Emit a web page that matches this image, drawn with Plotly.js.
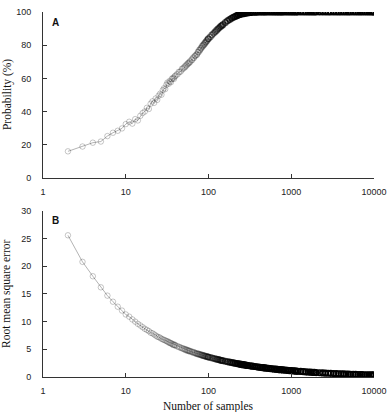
<!DOCTYPE html>
<html>
<head>
<meta charset="utf-8">
<script src="https://cdn.plot.ly/plotly-3.0.1.min.js"></script>
<style>
  html, body { margin: 0; padding: 0; background: #fff; }
  #chart { width: 387px; height: 412px; }
</style>
</head>
<body>
<div id="chart"></div>
<script>
// Number of samples (x)
const samples = [
  2,3,4,5,6,7,8,9,10,11,12,13,14,15,16,17,18,19,20,21,22,23,24,25,26,27,28,29,30,31,32,33,34,35,36,37,38,39,40,
  42,44,46,48,50,52,54,56,58,60,
  63,66,69,72,75,78,81,84,87,90,93,96,99,
  100,105,110,115,120,125,130,135,140,145,150,
  160,170,180,190,200,210,220,230,240,250,260,270,280,290,300,
  320,340,360,380,400,420,440,460,480,500,
  530,560,590,620,650,680,710,740,770,800,
  850,900,950,1000,1050,1100,1150,1200,
  1300,1400,1500,1600,1700,1800,1900,2000,
  2200,2400,2600,2800,3000,
  3250,3500,3750,4000,
  4300,4600,4900,5200,
  5600,6000,6400,6800,7200,
  7700,8200,8700,9200,9700,10000
];

// Panel A: Probability (%)
const probability = [
  16.1,19.0,21.3,22.0,25.3,27.3,28.5,29.9,32.5,33.9,32.8,35.5,34.7,37.5,39.2,40.1,42.3,41.6,44.8,46.2,45.3,47.9,47.1,49.6,50.8,50.2,52.9,54.1,53.6,56.2,57.4,56.8,58.3,57.9,59.6,60.2,59.8,61.1,61.7,
  62.5,63.8,64.2,65.6,66.3,67.1,67.9,68.8,69.4,70.2,
  71.3,72.5,73.6,74.4,75.8,77.0,78.1,79.3,80.2,81.1,82.0,82.9,83.8,
  84.0,85.0,86.1,87.1,88.0,88.9,89.7,90.5,91.2,91.9,92.5,
  93.7,94.7,95.5,96.2,96.8,97.3,97.8,98.2,98.5,98.8,99.0,99.2,99.4,99.5,99.6,
  99.75,99.85,99.92,99.96,100,100,100,100,100,100,
  100,100,100,100,100,100,100,100,100,100,
  100,100,100,100,100,100,100,100,
  100,100,100,100,100,100,100,100,
  100,100,100,100,100,
  100,100,100,100,
  100,100,100,100,
  100,100,100,100,100,
  100,100,100,100,100,100
];

// Panel B: Root mean square error
const rmse = [
  25.6,20.8,18.2,16.2,14.7,13.6,12.7,12.0,11.3,10.9,10.4,10.0,9.6,9.3,9.0,8.7,8.5,8.3,8.0,7.9,7.7,7.5,7.3,7.2,7.1,6.9,6.8,6.7,6.6,6.5,6.4,6.3,6.2,6.1,6.0,5.9,5.8,5.8,5.7,
  5.55,5.43,5.31,5.2,5.09,4.99,4.9,4.81,4.73,4.65,
  4.54,4.43,4.33,4.24,4.16,4.08,4.0,3.93,3.86,3.79,3.73,3.67,3.62,
  3.6,3.51,3.43,3.36,3.29,3.22,3.16,3.1,3.04,2.99,2.94,
  2.85,2.76,2.68,2.61,2.55,2.48,2.43,2.37,2.32,2.28,2.23,2.19,2.15,2.11,2.08,
  2.01,1.95,1.9,1.85,1.8,1.76,1.72,1.68,1.64,1.61,
  1.56,1.52,1.48,1.45,1.41,1.38,1.35,1.32,1.3,1.27,
  1.23,1.2,1.17,1.14,1.11,1.09,1.06,1.04,
  1.0,0.96,0.93,0.9,0.87,0.85,0.83,0.8,
  0.77,0.73,0.71,0.68,0.66,
  0.63,0.61,0.59,0.57,
  0.55,0.53,0.51,0.5,
  0.48,0.46,0.45,0.44,0.42,
  0.41,0.4,0.39,0.38,0.37,0.36
];

// Tick labels
const xTickVals = [1, 10, 100, 1000, 10000];
const xTickText = ['1', '10', '100', '1000', '10000'];
const yTickValsA = [0, 20, 40, 60, 80, 100];
const yTickValsB = [0, 5, 10, 15, 20, 25, 30];

// Styling: markers get darker/heavier where samples pile up
function pileUp(n) {
  return Math.min(1, Math.max(0, (Math.log10(n) - 1.5) / 0.9));
}
const cols = samples.map(n => {
  const t = pileUp(n);
  return 'rgba(0,0,0,' + (0.22 + 0.78 * t * t).toFixed(3) + ')';
});
const widths = samples.map(n => 1 + 0.7 * pileUp(n));

const common = {
  type: 'scatter',
  mode: 'lines+markers',
  x: samples,
  line: { color: 'rgba(120,120,120,0.8)', width: 0.7 },
  marker: { symbol: 'circle-open', size: 5.5, color: cols, line: { width: widths } },
  showlegend: false,
  hoverinfo: 'x+y'
};

const traceA = Object.assign({}, common, { y: probability, xaxis: 'x', yaxis: 'y' });
const traceB = Object.assign({}, common, { y: rmse, xaxis: 'x2', yaxis: 'y2' });

const tickFont = { family: 'Liberation Sans, Arial, sans-serif', size: 9, color: '#222' };
const titleFont = { family: 'Liberation Serif, Times New Roman, serif', size: 11.5, color: '#111' };

const xBase = {
  type: 'log',
  range: [-0.0005, 4.0005],
  tickmode: 'array',
  tickvals: xTickVals,
  ticktext: xTickText,
  ticks: 'inside',
  ticklen: 4,
  tickwidth: 1,
  tickcolor: '#333',
  showline: true,
  linecolor: '#333',
  linewidth: 1,
  showgrid: false,
  zeroline: false,
  tickfont: tickFont,
  ticklabelstandoff: 5,
  ticklabeloverflow: 'allow'
};
const yBase = {
  ticks: 'inside',
  ticklen: 4,
  tickwidth: 1,
  tickcolor: '#333',
  showline: true,
  linecolor: '#333',
  linewidth: 1,
  showgrid: false,
  zeroline: false,
  tickfont: tickFont,
  tickmode: 'array',
  ticklabelstandoff: 9
};

const layout = {
  width: 387,
  height: 412,
  margin: { l: 43, r: 13, t: 12, b: 35 },
  paper_bgcolor: '#fff',
  plot_bgcolor: '#fff',
  xaxis: Object.assign({}, xBase, { domain: [0, 1], anchor: 'y' }),
  yaxis: Object.assign({}, yBase, { domain: [0.545, 1], range: [0, 100], tickvals: yTickValsA, anchor: 'x' }),
  xaxis2: Object.assign({}, xBase, { domain: [0, 1], anchor: 'y2' }),
  yaxis2: Object.assign({}, yBase, { domain: [0, 0.455], range: [0, 30], tickvals: yTickValsB, anchor: 'x2' }),
  annotations: [
    { text: '<b>A</b>', xref: 'paper', yref: 'paper', x: 0, y: 1, xanchor: 'left', yanchor: 'top',
      xshift: 7, yshift: -3, showarrow: false, font: { family: 'Liberation Sans, Arial, sans-serif', size: 10, color: '#111' } },
    { text: '<b>B</b>', xref: 'paper', yref: 'paper', x: 0, y: 0.455, xanchor: 'left', yanchor: 'top',
      xshift: 7, yshift: -2, showarrow: false, font: { family: 'Liberation Sans, Arial, sans-serif', size: 10, color: '#111' } },
    { text: 'Probability (%)', xref: 'paper', yref: 'paper', x: 0, y: 0.7725, xanchor: 'center', yanchor: 'middle',
      xshift: -36, textangle: -90, showarrow: false, font: titleFont },
    { text: 'Root mean square error', xref: 'paper', yref: 'paper', x: 0, y: 0.2275, xanchor: 'center', yanchor: 'middle',
      xshift: -36, textangle: -90, showarrow: false, font: titleFont },
    { text: 'Number of samples', xref: 'paper', yref: 'paper', x: 0.5, y: 0, xanchor: 'center', yanchor: 'middle',
      yshift: -29, showarrow: false, font: titleFont }
  ]
};

Plotly.newPlot('chart', [traceA, traceB], layout, { staticPlot: true, displayModeBar: false });
</script>
</body>
</html>
